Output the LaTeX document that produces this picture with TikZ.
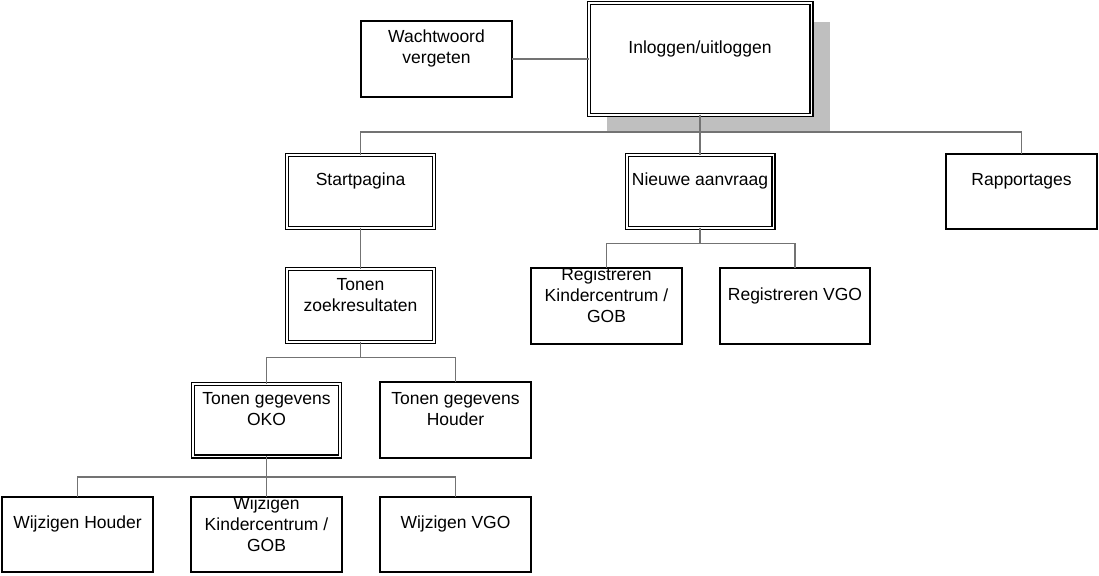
\documentclass[tikz,border=0pt]{standalone}
\usepackage{fontspec}
\setmainfont{Liberation Sans}
\usetikzlibrary{positioning,shadows}

\begin{document}
\begin{tikzpicture}[x=1pt, y=1pt, on grid, every node/.style={outer sep=0pt}]
\tikzset{box/.style={draw, fill=white, line width=1.8pt, minimum width=150.5pt,
  minimum height=75.5pt, inner sep=0pt},
  dbox/.style={box, line width=1.4pt, double=white, double distance=1.6pt,
  minimum width=146.6pt, minimum height=72.6pt},
  txt/.style={align=center, font=\fontsize{17.5}{21}\selectfont, yshift=10.5pt, inner sep=0pt},
  link/.style={draw=black!55, line width=1.7pt}}
\useasboundingbox (0,0) rectangle (1099,-575);
\node[dbox, label={[txt]center:Startpagina}] (start) at (360.5,-191.5) {};
\node[dbox, right=339.5pt of start, label={[txt]center:Nieuwe aanvraag}] (new) {};
\node[box, right=321.5pt of new, label={[txt]center:Rapportages}] (rapp) {};
\node[dbox, above=132.5pt of new, minimum width=222.6pt, minimum height=111.6pt,
  drop shadow={shadow xshift=18.5pt, shadow yshift=-18.5pt, fill=black!25, opacity=1},
  label={[txt]center:Inloggen/uitloggen}] (login) {};
\node[box, left=263.5pt of login, label={[txt]center:Wachtwoord\\vergeten}] (pw) {};
\node[dbox, below=114pt of start, label={[txt]center:Tonen\\zoekresultaten}] (zoek) {};
\node[box, below left=114.5pt and 93.5pt of new,
  label={[txt]center:Registreren\\Kindercentrum /\\GOB}] (regk) {};
\node[box, right=188.5pt of regk, label={[txt]center:Registreren VGO}] (regv) {};
\node[dbox, below left=114.5pt and 94pt of zoek,
  label={[txt]center:Tonen gegevens\\OKO}] (oko) {};
\node[box, right=189pt of oko, label={[txt]center:Tonen gegevens\\Houder}] (houder) {};
\node[box, below=114.5pt of oko, label={[txt]center:Wijzigen\\Kindercentrum /\\GOB}] (wk) {};
\node[box, left=189pt of wk, label={[txt]center:Wijzigen Houder}] (wh) {};
\node[box, right=189pt of wk, label={[txt]center:Wijzigen VGO}] (wv) {};

\draw[link] (pw) -- (login);
\draw[link] (login.south) -- (new.north);
\draw[link] (login.south) -- ++(0,-17.5) -| (start.north);
\draw[link] (login.south) -- ++(0,-17.5) -| (rapp.north);
\draw[link] (start) -- (zoek);
\draw[link] (zoek.south) -- ++(0,-15.75) -| (oko.north);
\draw[link] (zoek.south) -- ++(0,-15.75) -| (houder.north);
\draw[link] (new.south) -- ++(0,-15.75) -| (regk.north);
\draw[link] (new.south) -- ++(0,-15.75) -| (regv.north);
\draw[link] (oko) -- (wk);
\draw[link] (oko.south) -- ++(0,-20.75) -| (wh.north);
\draw[link] (oko.south) -- ++(0,-20.75) -| (wv.north);
\end{tikzpicture}
\end{document}
